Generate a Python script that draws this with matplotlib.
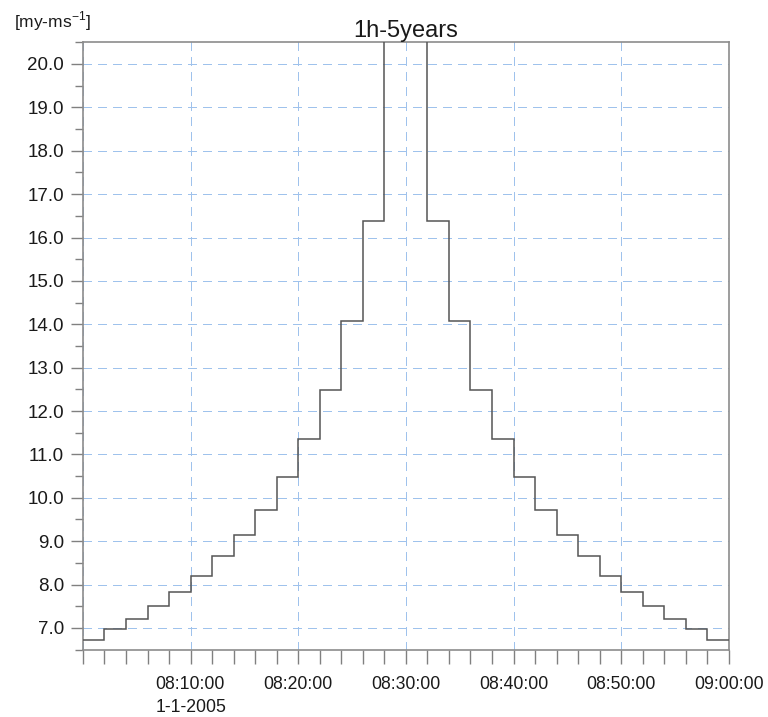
import numpy as np
import pandas as pd
import matplotlib
matplotlib.use("Agg")
import matplotlib.pyplot as plt
import matplotlib.dates as mdates
from matplotlib.ticker import FixedLocator, FuncFormatter

plt.rcParams['font.family'] = ['Liberation Sans', 'DejaVu Sans']
plt.rcParams['mathtext.fontset'] = 'custom'
plt.rcParams['mathtext.rm'] = 'Liberation Sans'

# 2-minute intensity blocks, 08:00 -> 09:00 on 1-1-2005
start = "2005-01-01 08:00"
step_minutes = 2
values = [6.71, 6.97, 7.21, 7.51, 7.83, 8.19, 8.65, 9.14, 9.72, 10.47,
          11.35, 12.49, 14.07, 16.38, 26.0, 26.0, 16.38, 14.07, 12.49, 11.35,
          10.47, 9.72, 9.14, 8.65, 8.19, 7.83, 7.51, 7.21, 6.97, 6.71]
title = "1h-5years"
unit = r"[my-ms$^{\mathregular{-1}}$]"
date_label = "1-1-2005"

edges = pd.date_range(start, periods=len(values) + 1, freq=f"{step_minutes}min")
x = mdates.date2num(edges.to_pydatetime())

fig = plt.figure(figsize=(7.68, 7.17), dpi=100)
ax = fig.add_axes([0.108, 0.094, 0.841, 0.847])

ax.stairs(values, x, baseline=None, color='#555555', linewidth=1.1, zorder=3)

ax.set_xlim(x[0], x[-1])
ax.set_ylim(6.5, 20.5)

# y ticks
ax.yaxis.set_major_locator(FixedLocator(np.arange(7, 21, 1.0)))
ax.yaxis.set_minor_locator(FixedLocator(np.arange(6.5, 21, 1.0)))
ax.yaxis.set_major_formatter(FuncFormatter(lambda v, p: f"{v:.1f}"))

# x ticks
major_x = x[::5]
ax.xaxis.set_major_locator(FixedLocator(major_x))
ax.xaxis.set_minor_locator(FixedLocator(x))

def fmt_time(v, p):
    t = mdates.num2date(v)
    if t.minute == 0 and t.hour == 8:
        return ""
    s = t.strftime("%H:%M:%S")
    if t.hour == 8 and t.minute == 10:
        s += "\n" + date_label
    return s

ax.xaxis.set_major_formatter(FuncFormatter(fmt_time))

ax.tick_params(axis='both', which='both', direction='out', color='#808080',
               labelcolor='#1a1a1a', width=1.0)
ax.tick_params(axis='y', which='major', length=9, pad=4.5, labelsize=13.5)
ax.tick_params(axis='y', which='minor', length=6)
ax.tick_params(axis='x', which='both', length=10, pad=9, labelsize=12.7)

fig.canvas.draw()
for lbl in ax.get_xticklabels():
    lbl.set_linespacing(1.45)
    lbl.set_multialignment('left')

ax.grid(True, which='major', color='#9fc2ec', linestyle=(0, (6, 5)),
        linewidth=1.0, antialiased=False)

for sp in ax.spines.values():
    sp.set_color('#8c8c8c')
    sp.set_linewidth(1.2)

ax.set_title(title, fontsize=17, color='#1a1a1a', pad=3)
fig.text(0.018, 0.962, unit, fontsize=12.5, color='#1a1a1a', ha='left', va='baseline')

fig.savefig("out.png", dpi=100)
